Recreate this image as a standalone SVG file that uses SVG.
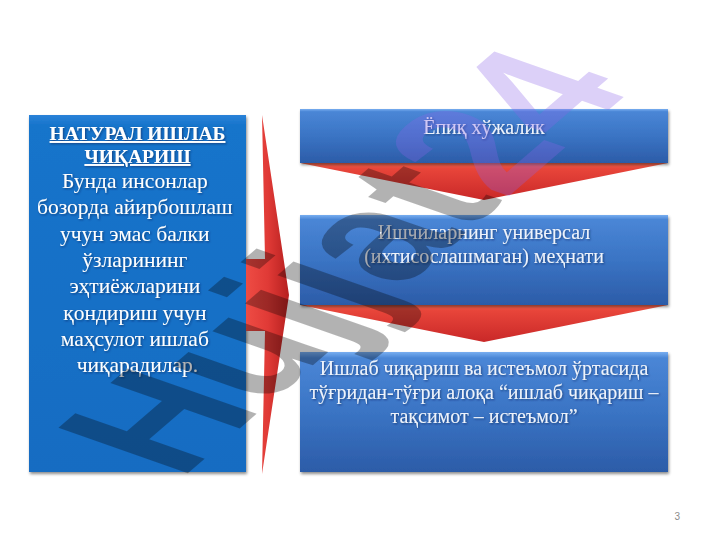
<svg xmlns="http://www.w3.org/2000/svg" width="720" height="540" viewBox="0 0 720 540">
  <defs>
    <linearGradient id="gLeft" x1="0" y1="0" x2="0" y2="1">
      <stop offset="0" stop-color="#2a82d8"/>
      <stop offset="0.03" stop-color="#1674cb"/>
      <stop offset="1" stop-color="#136cc2"/>
    </linearGradient>
    <linearGradient id="gBox" x1="0" y1="0" x2="0" y2="1">
      <stop offset="0" stop-color="#78aef0"/>
      <stop offset="0.05" stop-color="#4a86d6"/>
      <stop offset="0.5" stop-color="#3a74c4"/>
      <stop offset="1" stop-color="#2c5ca8"/>
    </linearGradient>
    <linearGradient id="gChev" x1="0" y1="0" x2="0" y2="1">
      <stop offset="0" stop-color="#f46a52"/>
      <stop offset="0.15" stop-color="#e8453a"/>
      <stop offset="1" stop-color="#c92828"/>
    </linearGradient>
    <linearGradient id="gArrow" gradientUnits="userSpaceOnUse" x1="246" y1="0" x2="290" y2="0">
      <stop offset="0" stop-color="#ee4c44"/>
      <stop offset="0.5" stop-color="#e03a36"/>
      <stop offset="1" stop-color="#b41e1e"/>
    </linearGradient>
    <filter id="sh" x="-5%" y="-5%" width="110%" height="115%">
      <feDropShadow dx="1" dy="2" stdDeviation="1.5" flood-color="#000" flood-opacity="0.45"/>
    </filter>
    <filter id="tsh" x="-5%" y="-20%" width="110%" height="140%">
      <feDropShadow dx="1" dy="1" stdDeviation="1" flood-color="#0a2050" flood-opacity="0.6"/>
    </filter>
  </defs>
  <style>
    .lt { font-family: "Liberation Serif", "Times New Roman", serif; fill: #ffffff; text-anchor: middle; }
    .rt { font-family: "Liberation Serif", "Times New Roman", serif; fill: #eef3fb; text-anchor: middle; font-size: 20px; }
    .chev { fill: url(#gChev); }
    .box { fill: url(#gBox); filter: url(#sh); }
  </style>

  <rect width="720" height="540" fill="#ffffff"/>

  <g id="left-box">
    <rect x="29" y="115" width="217" height="357" fill="url(#gLeft)" filter="url(#sh)"/>
    <g filter="url(#tsh)">
      <text class="lt" x="137.5" y="140" font-size="19.5" font-weight="bold" text-decoration="underline">НАТУРАЛ ИШЛАБ</text>
      <text class="lt" x="137.5" y="163" font-size="19.5" font-weight="bold" text-decoration="underline">ЧИҚАРИШ</text>
      <text class="lt" font-size="21.5">
        <tspan x="137.5" y="188">Бунда инсонлар</tspan>
        <tspan x="137.5" y="214.3">бозорда айирбошлаш</tspan>
        <tspan x="137.5" y="240.6">учун эмас балки</tspan>
        <tspan x="137.5" y="266.9">ўзларининг</tspan>
        <tspan x="137.5" y="293.2">эҳтиёжларини</tspan>
        <tspan x="137.5" y="319.5">қондириш учун</tspan>
        <tspan x="137.5" y="345.8">маҳсулот ишлаб</tspan>
        <tspan x="137.5" y="372.1">чиқарадилар.</tspan>
      </text>
    </g>
  </g>

  <g id="connectors">
    <path id="big-arrow" d="M262,115 L289,295 L262,474 L265,331 L246,331 L246,259 L265,259 Z" fill="url(#gArrow)"/>
    <path id="chevron-1" class="chev" d="M300,163 L668,163 L484,200 Z"/>
    <path id="chevron-2" class="chev" d="M300,305 L668,305 L484,342 Z"/>
  </g>

  <g id="box-1">
    <rect class="box" x="300" y="109" width="368" height="54"/>
    <text class="rt" x="484" y="134" filter="url(#tsh)">Ёпиқ хўжалик</text>
  </g>

  <g id="box-2">
    <rect class="box" x="300" y="215" width="368" height="90"/>
    <g filter="url(#tsh)">
      <text class="rt" x="484" y="239">Ишчиларнинг универсал</text>
      <text class="rt" x="484" y="263">(ихтисослашмаган) меҳнати</text>
    </g>
  </g>

  <g id="box-3">
    <rect class="box" x="300" y="352" width="368" height="120"/>
    <g filter="url(#tsh)">
      <text class="rt" x="484" y="375">Ишлаб чиқариш ва истеъмол ўртасида</text>
      <text class="rt" x="484" y="399">тўғридан-тўғри алоқа “ишлаб чиқариш –</text>
      <text class="rt" x="484" y="423">тақсимот – истеъмол”</text>
    </g>
  </g>

  <text id="page-number" x="680" y="520" font-family="Liberation Sans, Arial, sans-serif" font-size="10" fill="#8c8c8c" text-anchor="end">3</text>

  <g id="watermark">
    <text transform="matrix(1.17,-1.01,1.88,0.66,180,480)" font-family="Liberation Sans, Arial, sans-serif" font-weight="bold" font-size="100"><tspan fill="#000000" fill-opacity="0.3">Hujjat</tspan><tspan fill="#8a62e8" fill-opacity="0.3">24</tspan></text>
  </g>
</svg>
